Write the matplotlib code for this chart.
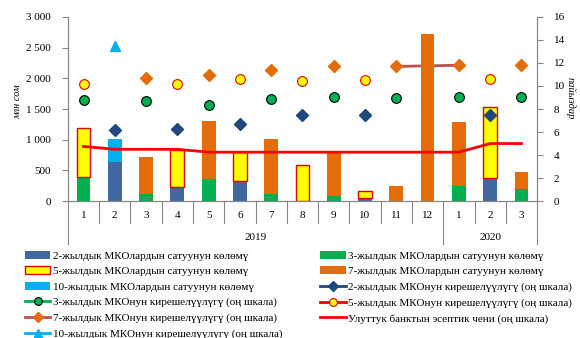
import numpy as np
import matplotlib.pyplot as plt
from matplotlib.transforms import blended_transform_factory

plt.rcParams['font.family'] = ['Liberation Serif', 'DejaVu Serif']
plt.rcParams['font.size'] = 8

# ------------------------------- DATA ----------------------------------------
months = ['1', '2', '3', '4', '5', '6', '7', '8', '9', '10', '11', '12', '1', '2', '3']
years = ['2019', '2020']
nan = np.nan

# Sales volume, mln som
vol_2y = [0, 645, 0, 235, 0, 333, 0, 0, 0, 49, 0, 0, 0, 370, 0]
vol_3y = [390, 0, 115, 0, 361, 0, 115, 0, 82, 0, 0, 0, 242, 0, 192]
vol_5y = [795, 0, 0, 601, 0, 465, 0, 585, 0, 116, 0, 0, 0, 1170, 0]
vol_7y = [0, 0, 606, 0, 939, 0, 896, 0, 715, 0, 247, 2720, 1039, 0, 281]
vol_10y = [0, 371, 0, 0, 0, 0, 0, 0, 0, 0, 0, 0, 0, 0, 0]

# Yields, %
yld_2y = [nan, 6.15, nan, 6.25, nan, 6.7, nan, 7.45, nan, 7.5, nan, nan, nan, 7.5, nan]
yld_3y = [8.8, nan, 8.7, nan, 8.35, nan, 8.9, nan, 9.0, nan, 8.95, nan, 9.0, nan, 9.05]
yld_5y = [10.2, nan, nan, 10.2, nan, 10.6, nan, 10.4, nan, 10.55, nan, nan, nan, 10.6, nan]
yld_7y = [nan, nan, 10.7, nan, 10.95, nan, 11.4, nan, 11.7, nan, 11.7, 11.75, 11.8, nan, 11.8]
yld_10y = [nan, 13.5, nan, nan, nan, nan, nan, nan, nan, nan, nan, nan, nan, nan, nan]
policy_rate = [4.75, 4.5, 4.5, 4.5, 4.25, 4.25, 4.25, 4.25, 4.25, 4.25, 4.25, 4.25, 4.25, 5.0, 5.0]

# ------------------------------ PLOTTING -------------------------------------
x = np.arange(len(months))
grey = '#868686'

fig = plt.figure(figsize=(5.8, 3.38), dpi=100)
ax = fig.add_axes([0.117, 0.405, 0.809, 0.545])
ax2 = ax.twinx()

bar_specs = [
    (vol_2y, dict(color='#41699F'), '2-жылдык МКОлардын сатуунун көлөмү'),
    (vol_3y, dict(color='#00B050'), '3-жылдык МКОлардын сатуунун көлөмү'),
    (vol_5y, dict(facecolor='#FFFF00', edgecolor='#E00000', linewidth=1.0), '5-жылдык МКОлардын сатуунун көлөмү'),
    (vol_7y, dict(color='#E46C0A'), '7-жылдык МКОлардын сатуунун көлөмү'),
    (vol_10y, dict(color='#00B0F0'), '10-жылдык МКОлардын сатуунун көлөмү'),
]
bottom = np.zeros(len(x))
bar_handles = []
for vals, style, label in bar_specs:
    vals = np.array(vals, dtype=float)
    m = vals > 0
    h = ax.bar(x[m], vals[m], width=0.44, bottom=bottom[m], label=label, zorder=2, **style)
    bar_handles.append(h)
    bottom += vals

# 7-year line sits under the bars (drawn on the left axes with the right scale)
h7, = ax.plot(x, yld_7y, transform=ax2.transData, color='#C0504D', lw=2,
              marker='D', ms=6, mfc='#E46C0A', mec='#E46C0A', zorder=1,
              label='7-жылдык МКОнун кирешелүүлүгү (оң шкала)')

h2, = ax2.plot(x, yld_2y, color='#1F497D', lw=2, marker='D', ms=6, mfc='#1F497D', mec='#1F497D',
               label='2-жылдык МКОнун кирешелүүлүгү (оң шкала)')
h3, = ax2.plot(x, yld_3y, color='#00B050', lw=2, marker='o', ms=7, mfc='#00B050', mec='black', mew=0.8,
               label='3-жылдык МКОнун кирешелүүлүгү (оң шкала)')
h5, = ax2.plot(x, yld_5y, color='#E00000', lw=2, marker='o', ms=7, mfc='#FFFF00', mec='#E00000', mew=0.8,
               label='5-жылдык МКОнун кирешелүүлүгү (оң шкала)')
h10, = ax2.plot(x, yld_10y, color='#00B0F0', lw=2, marker='^', ms=7, mfc='#00B0F0', mec='#00B0F0',
                label='10-жылдык МКОнун кирешелүүлүгү (оң шкала)')
hr, = ax2.plot(x, policy_rate, color='#FF0000', lw=2,
               label='Улуттук банктын эсептик чени (оң шкала)')

# axes limits and ticks
ax.set_xlim(-0.5, len(x) - 0.5)
ax.set_ylim(0, 3000)
ax2.set_ylim(0, 16)
ax.set_yticks(np.arange(0, 3001, 500))
ax.set_yticklabels([f'{v:,}'.replace(',', ' ') for v in range(0, 3001, 500)])
ax2.set_yticks(np.arange(0, 17, 2))
ax.set_xticks(x)
ax.set_xticklabels(months)
ax.tick_params(axis='x', length=0, pad=7)
ax.tick_params(axis='y', length=4, color=grey, pad=8)
ax2.tick_params(axis='y', length=4, color=grey, pad=8)

for a in (ax, ax2):
    a.spines['top'].set_visible(False)
    for s in ('left', 'right', 'bottom'):
        a.spines[s].set_color(grey)

# category separators and year groups under the x axis
trans = blended_transform_factory(ax.transData, ax.transAxes)
for i in range(1, len(x)):
    if i == 12:
        continue
    ax.plot([i - 0.5, i - 0.5], [0, -0.12], transform=trans, color=grey, lw=0.8, clip_on=False)
for xe in (-0.5, 11.5, len(x) - 0.5):
    ax.plot([xe, xe], [0, -0.235], transform=trans, color=grey, lw=0.8, clip_on=False)
ax.text(5.5, -0.195, years[0], transform=trans, ha='center', va='center')
ax.text(13.0, -0.195, years[1], transform=trans, ha='center', va='center')

fig.text(0.031, 0.70, 'млн сом', rotation=90, style='italic', ha='center', va='center', fontsize=7.5)
fig.text(0.983, 0.71, 'пайыздар', rotation=-90, style='italic', ha='center', va='center', fontsize=7.5)

# legend filled row by row, two columns
handles = [bar_handles[0], bar_handles[2], bar_handles[4], h3, h7, h10,
           bar_handles[1], bar_handles[3], h2, h5, hr]
labels = [h.get_label() for h in handles]
fig.legend(handles, labels, ncol=2, loc='upper left', bbox_to_anchor=(0.043, 0.258),
           frameon=False, handlelength=2.3, handletextpad=0.2, columnspacing=3.4,
           labelspacing=0.52, borderpad=0, borderaxespad=0, fontsize=8, markerscale=0.8)

fig.savefig('out.png', dpi=100)
